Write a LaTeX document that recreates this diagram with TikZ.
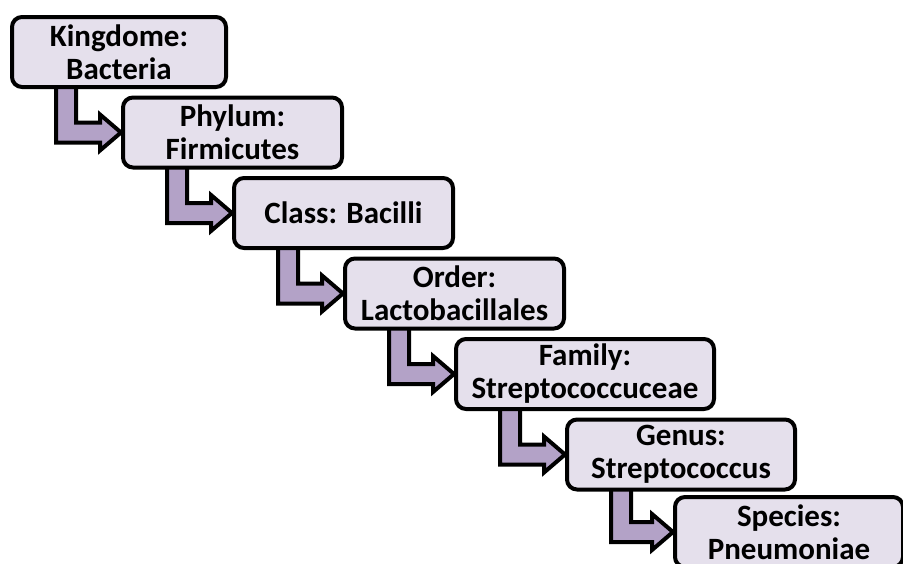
\documentclass[tikz,border=0pt]{standalone}
\usepackage{fontspec}
\setmainfont{Carlito}
\usetikzlibrary{positioning,calc,backgrounds}
\definecolor{rankfill}{HTML}{E5E0EC}
\definecolor{arrowfill}{HTML}{B3A2C7}
\tikzstyle{rank} = [rectangle, rounded corners=10pt, minimum width=219pt, minimum height=70pt, inner sep=2pt, align=center, draw=black, line width=4pt, fill=rankfill, font=\bfseries\fontsize{31}{33}\selectfont]
\tikzstyle{bent} = [line width=4pt, draw=black, fill=arrowfill, line join=miter]
\tikzset{next rank/.style={below=6.5pt of #1.south west, anchor=north west, xshift=111pt}}
\newcommand{\bentarrow}[2]{%
  \draw [bent] let \p1 = ($(#1.south west)+(56pt,0)$), \p2 = (#2.west) in
    (\x1-10pt,\y1+10pt) -- (\x1+10pt,\y1+10pt) -- (\x1+10pt,\y2+10pt) -- (\x2-21pt,\y2+10pt)
    -- (\x2-21pt,\y2+18pt) -- (\x2,\y2) -- (\x2-21pt,\y2-18pt) -- (\x2-21pt,\y2-10pt)
    -- (\x1-10pt,\y2-10pt) -- cycle;}

\begin{document}
\begin{tikzpicture}[x=1pt, y=1pt]
    \useasboundingbox (0,0) rectangle (903,-563);
    \clip (0,0) rectangle (903,-563);
    \node (kingdom) [rank, minimum width=214pt, anchor=north west] at (10,-15) {Kingdome:\\Bacteria};
    \node (phylum) [rank, next rank=kingdom] {Phylum:\\Firmicutes};
    \node (class) [rank, next rank=phylum] {Class: Bacilli};
    \node (order) [rank, next rank=class] {Order:\\Lactobacillales};
    \node (family) [rank, next rank=order, minimum width=258pt] {Family:\\Streptococcuceae};
    \node (genus) [rank, next rank=family, minimum width=228pt] {Genus:\\Streptococcus};
    \node (species) [rank, next rank=genus, xshift=-3pt, yshift=3pt, minimum width=228pt] {Species:\\Pneumoniae};
    \begin{scope}[on background layer]
        \bentarrow{kingdom}{phylum}
        \bentarrow{phylum}{class}
        \bentarrow{class}{order}
        \bentarrow{order}{family}
        \bentarrow{family}{genus}
        \bentarrow{genus}{species}
    \end{scope}
\end{tikzpicture}
\end{document}
